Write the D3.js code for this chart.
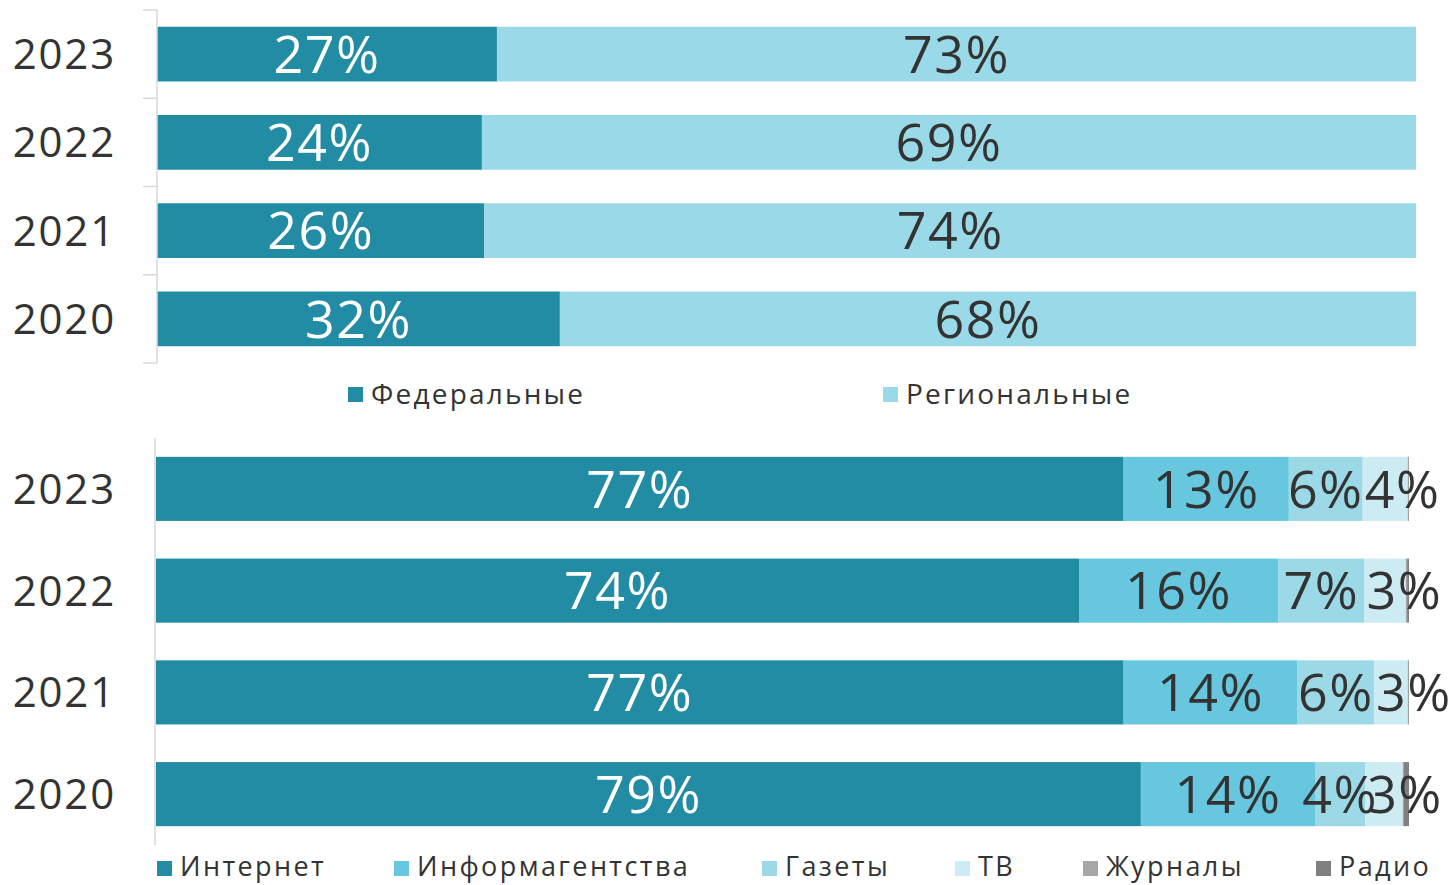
<!DOCTYPE html>
<html>
<head>
<meta charset="utf-8">
<script src="https://cdn.jsdelivr.net/npm/d3@7"></script>
<style>
  body { margin: 0; background: #fff; }
  svg { font-family: "Open Sans", sans-serif; }
</style>
</head>
<body>
<svg id="chart" width="1451" height="885"></svg>
<script>
// top chart: federal vs regional media
const years = ['2023', '2022', '2021', '2020'];
const federal = [27, 24, 26, 32];
const regional = [73, 69, 74, 68];
const topSeries = ['Федеральные', 'Региональные'];

// bottom chart: media types (share, %)
const mediaTypes = ['Интернет', 'Информагентства', 'Газеты', 'ТВ', 'Журналы', 'Радио'];
const internet = [77.3, 73.7, 77.3, 78.6];
const agencies = [13.2, 15.9, 13.9, 13.9];
const newspapers = [5.9, 6.9, 6.1, 4.0];
const tv = [3.6, 3.3, 2.7, 3.0];
const magazines = [0.05, 0.1, 0.05, 0.1];
const radio = [0.05, 0.15, 0.05, 0.4];

const topColors = ['#228ca4', '#9adae8'];
const mediaColors = ['#228ca4', '#66c7df', '#9bd9e7', '#cdebf2', '#a6a6a6', '#808080'];
const dark = '#333333';

const svg = d3.select('#chart');

function stackRows(cols, keys) {
  const rows = years.map((y, i) => {
    const r = { year: y };
    keys.forEach((k, j) => r[k] = cols[j][i]);
    return r;
  });
  return d3.stack().keys(keys).offset(d3.stackOffsetExpand)(rows);
}

// ---------- top chart ----------
const topStack = stackRows([federal, regional], topSeries);
const xTop = d3.scaleLinear().domain([0, 1]).range([157, 1416]);
const yTop = d3.scaleBand().domain(years).range([10, 363]).paddingInner(0.38).paddingOuter(0.19);

const gTop = svg.append('g');
gTop.selectAll('g.series')
  .data(topStack)
  .join('g')
  .attr('fill', (d, i) => topColors[i])
  .selectAll('rect')
  .data(d => d)
  .join('rect')
  .attr('x', d => xTop(d[0]))
  .attr('width', d => xTop(d[1]) - xTop(d[0]))
  .attr('y', d => yTop(d.data.year))
  .attr('height', yTop.bandwidth());

topStack.forEach((s, i) => {
  gTop.selectAll(null)
    .data(s)
    .join('text')
    .attr('x', d => (xTop(d[0]) + xTop(d[1])) / 2)
    .attr('y', d => yTop(d.data.year) + yTop.bandwidth() / 2)
    .attr('dy', '0.36em')
    .attr('text-anchor', 'middle')
    .attr('font-size', 52)
    .attr('letter-spacing', 1.5)
    .attr('fill', i === 0 ? '#fff' : dark)
    .text(d => d.data[s.key] + '%');
});

// axis with ticks at band boundaries
const axTop = svg.append('g').attr('stroke', '#d9d9d9').attr('stroke-width', 1.5);
axTop.append('line').attr('x1', 157).attr('x2', 157).attr('y1', 10).attr('y2', 363);
d3.range(years.length + 1).forEach(i => {
  const y = 10 + i * (363 - 10) / years.length;
  axTop.append('line').attr('x1', 143).attr('x2', 157).attr('y1', y).attr('y2', y);
});
svg.append('g').selectAll('text')
  .data(years)
  .join('text')
  .attr('x', 116)
  .attr('y', d => yTop(d) + yTop.bandwidth() / 2)
  .attr('dy', '0.36em')
  .attr('text-anchor', 'end')
  .attr('font-size', 42)
  .attr('letter-spacing', 1.8)
  .attr('fill', dark)
  .text(d => d);

// top legend
const legTopX = [348, 883];
const legTop = svg.append('g');
topSeries.forEach((name, i) => {
  legTop.append('rect').attr('x', legTopX[i]).attr('y', 387).attr('width', 15).attr('height', 15).attr('fill', topColors[i]);
  legTop.append('text').attr('x', legTopX[i] + 23).attr('y', 394).attr('dy', '0.36em')
    .attr('font-size', 28).attr('letter-spacing', 2.2).attr('fill', dark).text(name);
});

// ---------- bottom chart ----------
const botStack = stackRows([internet, agencies, newspapers, tv, magazines, radio], mediaTypes);
const xBot = d3.scaleLinear().domain([0, 1]).range([156, 1409]);
const yBot = d3.scaleBand().domain(years).range([438, 845]).paddingInner(0.37).paddingOuter(0.185);

const gBot = svg.append('g');
gBot.selectAll('g.series')
  .data(botStack)
  .join('g')
  .attr('fill', (d, i) => mediaColors[i])
  .selectAll('rect')
  .data(d => d)
  .join('rect')
  .attr('x', d => xBot(d[0]))
  .attr('width', d => xBot(d[1]) - xBot(d[0]))
  .attr('y', d => yBot(d.data.year))
  .attr('height', yBot.bandwidth());

botStack.slice(0, 4).forEach((s, i) => {
  gBot.selectAll(null)
    .data(s)
    .join('text')
    .attr('x', d => i === 3 ? xBot(d[0]) + 2 : (xBot(d[0]) + xBot(d[1])) / 2)
    .attr('y', d => yBot(d.data.year) + yBot.bandwidth() / 2)
    .attr('dy', '0.36em')
    .attr('text-anchor', i === 3 ? 'start' : 'middle')
    .attr('font-size', 52)
    .attr('letter-spacing', 1.5)
    .attr('fill', i === 0 ? '#fff' : dark)
    .text(d => Math.round(d.data[s.key]) + '%');
});

svg.append('line').attr('x1', 155).attr('x2', 155).attr('y1', 438).attr('y2', 845)
  .attr('stroke', '#d9d9d9').attr('stroke-width', 1.5);
svg.append('g').selectAll('text')
  .data(years)
  .join('text')
  .attr('x', 116)
  .attr('y', d => yBot(d) + yBot.bandwidth() / 2)
  .attr('dy', '0.36em')
  .attr('text-anchor', 'end')
  .attr('font-size', 42)
  .attr('letter-spacing', 1.8)
  .attr('fill', dark)
  .text(d => d);

// bottom legend
const legBotX = [157, 394, 762, 955, 1083, 1316];
const legBot = svg.append('g');
mediaTypes.forEach((name, i) => {
  legBot.append('rect').attr('x', legBotX[i]).attr('y', 861).attr('width', 15).attr('height', 15).attr('fill', mediaColors[i]);
  legBot.append('text').attr('x', legBotX[i] + 23).attr('y', 866).attr('dy', '0.36em')
    .attr('font-size', 27).attr('letter-spacing', 2.4).attr('fill', dark).text(name);
});
</script>
</body>
</html>
